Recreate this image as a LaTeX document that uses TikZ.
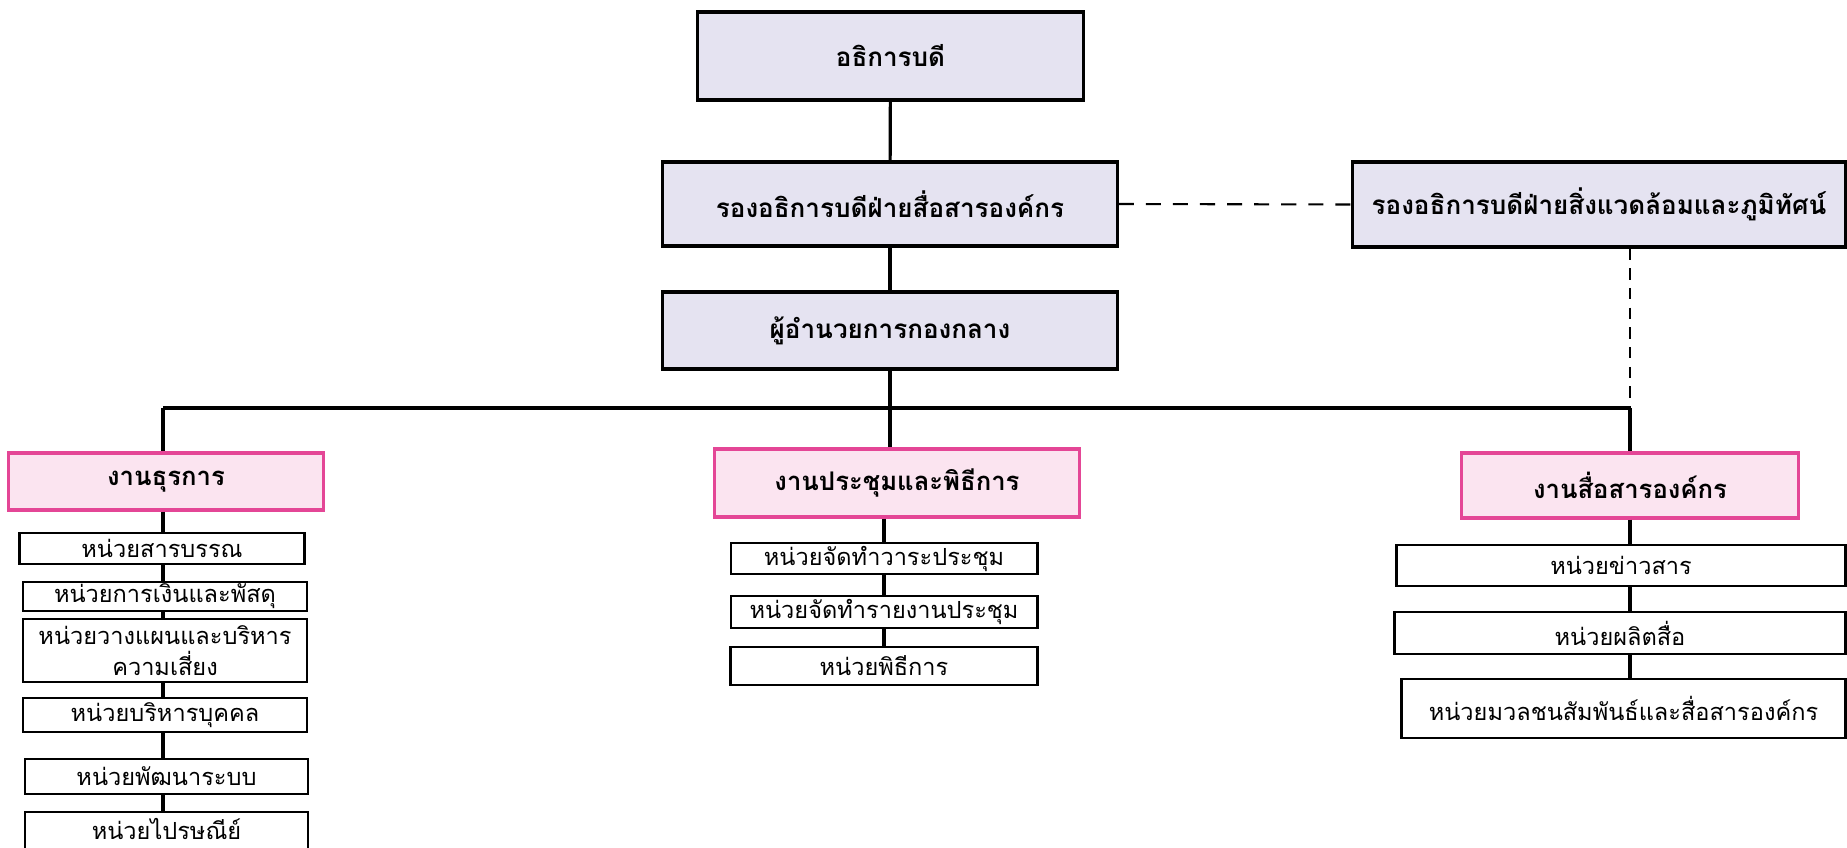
\documentclass[tikz,border=0pt]{standalone}
\usepackage{fontspec}
\usepackage{tikz}
\usepackage{xcolor}
\usetikzlibrary{positioning, calc}
\newfontfamily\thaifont[Script=Thai]{Loma}
\definecolor{lavbox}{RGB}{229,227,241}
\definecolor{pinkfill}{RGB}{251,228,240}
\definecolor{pinkline}{RGB}{228,70,150}

\begin{document}
\begin{tikzpicture}[x=0.01cm, y=-0.01cm,
  headbox/.style={rectangle, draw=black, line width=0.9pt, fill=lavbox, inner sep=0pt,
              align=center, font=\thaifont\bfseries\fontsize{7.4}{9}\selectfont},
  workbox/.style={rectangle, draw=pinkline, line width=0.9pt, fill=pinkfill, inner sep=0pt,
              align=center, font=\thaifont\bfseries\fontsize{7.3}{9}\selectfont},
  unitbox/.style={rectangle, draw=black, line width=0.8pt, fill=white, inner sep=0pt,
              align=center, font=\thaifont\fontsize{6.7}{8.8}\selectfont},
  link/.style={line width=0.9pt, black},
  dashlink/.style={line width=0.6pt, black, dash pattern=on 4.3pt off 3.4pt},
  vdashlink/.style={line width=0.5pt, black, dash pattern=on 3.2pt off 2.4pt}
]
\useasboundingbox[fill=white] (0,0) rectangle (1847,848);

% upper levels
\node[headbox, minimum width=3.85cm, minimum height=0.88cm] (dean) at (890.5,56) {อธิการบดี};
\node[headbox, minimum width=4.54cm, minimum height=0.84cm] (vpcomm) at (890,204) {รองอธิการบดีฝ่ายสื่อสารองค์กร};
\node[headbox, minimum width=4.92cm, minimum height=0.85cm] (vpenv) at (1599,204.5) {รองอธิการบดีฝ่ายสิ่งแวดล้อมและภูมิทัศน์};
\node[headbox, minimum width=4.54cm, minimum height=0.77cm] (director) at (890,330.5) {ผู้อำนวยการกองกลาง};

% work groups
\node[workbox, minimum width=3.14cm, minimum height=0.57cm] (admin) at (166,481.5) {งานธุรการ};
\node[workbox, minimum width=3.64cm, minimum height=0.68cm] (meeting) at (897,483) {งานประชุมและพิธีการ};
\node[workbox, minimum width=3.36cm, minimum height=0.65cm] (comm) at (1630,485.5) {งานสื่อสารองค์กร};

% units
\node[unitbox, minimum width=2.85cm, minimum height=0.31cm] (adm1) at (162,548.5) {หน่วยสารบรรณ};
\node[unitbox, minimum width=2.84cm, minimum height=0.29cm] (adm2) at (165,596.5) {หน่วยการเงินและพัสดุ};
\node[unitbox, minimum width=2.84cm, minimum height=0.63cm] (adm3) at (165,650.5) {หน่วยวางแผนและบริหาร\\ความเสี่ยง};
\node[unitbox, minimum width=2.84cm, minimum height=0.34cm] (adm4) at (165,715) {หน่วยบริหารบุคคล};
\node[unitbox, minimum width=2.83cm, minimum height=0.35cm] (adm5) at (166.5,776.5) {หน่วยพัฒนาระบบ};
\node[unitbox, minimum width=2.83cm, minimum height=0.40cm] (adm6) at (166.5,832) {\raisebox{2pt}{หน่วยไปรษณีย์}};

\node[unitbox, minimum width=3.06cm, minimum height=0.31cm] (meet1) at (884,558.5) {หน่วยจัดทำวาระประชุม};
\node[unitbox, minimum width=3.06cm, minimum height=0.32cm] (meet2) at (884,612) {หน่วยจัดทำรายงานประชุม};
\node[unitbox, minimum width=3.07cm, minimum height=0.38cm] (meet3) at (884,666) {หน่วยพิธีการ};

\node[unitbox, minimum width=4.48cm, minimum height=0.41cm] (com1) at (1621,565.5) {หน่วยข่าวสาร};
\node[unitbox, minimum width=4.50cm, minimum height=0.42cm] (com2) at (1620,633) {หน่วยผลิตสื่อ};
\node[unitbox, minimum width=4.43cm, minimum height=0.59cm] (com3) at (1623.5,708.5) {หน่วยมวลชนสัมพันธ์และสื่อสารองค์กร};

\coordinate (busL) at (163,408);
\coordinate (busR) at (1630,408);

\draw[link] (dean)--(vpcomm);
\draw[link] (vpcomm)--(director);
\draw[dashlink] (vpcomm.east)--(vpenv.west);
\draw[vdashlink] (busR |- vpenv.south)--(busR);
\draw[link] (busL)--(busR);
\draw[link] (director.south)--(director.south |- busL);
\draw[link] (busL)--(busL |- admin.north);
\draw[link] (director.south |- busL)--(director.south |- meeting.north);
\draw[link] (busR)--(comm.north);

\draw[link] (admin.south -| busL)--(adm1.north -| busL);
\draw[link] (adm1.south -| busL)--(adm2.north -| busL);
\draw[link] (adm2.south -| busL)--(adm3.north -| busL);
\draw[link] (adm3.south -| busL)--(adm4.north -| busL);
\draw[link] (adm4.south -| busL)--(adm5.north -| busL);
\draw[link] (adm5.south -| busL)--(adm6.north -| busL);

\draw[link] (meeting.south -| meet1)--(meet1);
\draw[link] (meet1)--(meet2);
\draw[link] (meet2)--(meet3);

\draw[link] (comm.south)--(comm.south |- com1.north);
\draw[link] (com1.south -| comm)--(com2.north -| comm);
\draw[link] (com2.south -| comm)--(com3.north -| comm);
\end{tikzpicture}
\end{document}
